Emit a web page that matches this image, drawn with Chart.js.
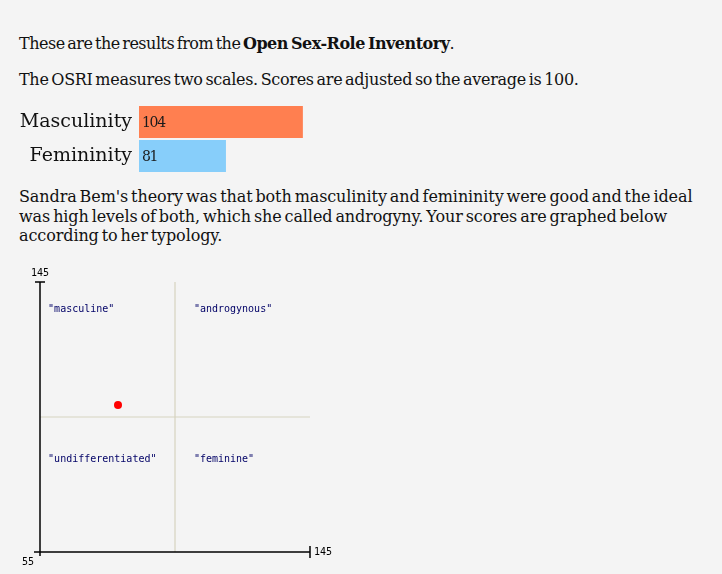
<!DOCTYPE html>
<html>
<head>
<meta charset="utf-8">
<script src="https://cdn.jsdelivr.net/npm/chart.js@4.4.1/dist/chart.umd.min.js"></script>
<style>
  html, body { margin: 0; padding: 0; background: #f4f4f4; width: 722px; height: 574px; overflow: hidden; }
  body { position: relative; font-family: "DejaVu Serif", serif; color: #111; }
  .txt { position: absolute; left: 19px; margin: 0; white-space: nowrap; font-size: 16px; }
  #p1 { top: 34px; letter-spacing: -0.5px; word-spacing: -2px; }
  #p2 { top: 70px; letter-spacing: -0.3px; word-spacing: -2px; }
  #p3 { top: 187px; line-height: 19.5px; letter-spacing: -0.1px; word-spacing: -2px; }
  #barWrap { position: absolute; left: 0; top: 105px; width: 440px; height: 68px; }
  #scatWrap { position: absolute; left: 0; top: 260px; width: 360px; height: 314px; }
</style>
</head>
<body>
<p class="txt" id="p1">These are the results from the <b>Open Sex-Role Inventory</b>.</p>
<p class="txt" id="p2">The OSRI measures two scales. Scores are adjusted so the average is 100.</p>
<div id="barWrap"><canvas id="bar"></canvas></div>
<p class="txt" id="p3">Sandra Bem's theory was that both masculinity and femininity were good and the ideal<br>was high levels of both, which she called androgyny. Your scores are graphed below<br>according to her typology.</p>
<div id="scatWrap"><canvas id="scat"></canvas></div>
<script>
// ---- data ----
const barCategories = ['Masculinity', 'Femininity'];
const barValues = [104, 81];
const scaleMin = 55;
const scaleMax = 145;
const scaleAverage = 100;
const scoreFemininity = [81];   // x
const scoreMasculinity = [104]; // y
const quadrantNames = ['"masculine"', '"androgynous"', '"undifferentiated"', '"feminine"'];
const quadrantX = [57.7, 106.3, 57.7, 106.3];
const quadrantY = [136, 136, 86, 86];

// ---- styles ----
const barColors = ['#ff7f50', '#87cefa'];
const monoFont = '"DejaVu Sans Mono", monospace';

const barValuePlugin = {
  id: 'barValues',
  afterDraw(chart) {
    const ctx = chart.ctx;
    const xs = chart.scales.x, ys = chart.scales.y;
    const base = xs.getPixelForValue(scaleMin);
    ctx.save();
    ctx.font = '14px "DejaVu Serif", serif';
    if ('letterSpacing' in ctx) ctx.letterSpacing = '-1.3px';
    ctx.fillStyle = '#1a1a1a';
    ctx.textBaseline = 'middle';
    ctx.textAlign = 'left';
    barValues.forEach((v, i) => {
      ctx.fillText(String(v), base + 3, ys.getPixelForValue(i) + 1);
    });
    ctx.restore();
  }
};

new Chart(document.getElementById('bar'), {
  type: 'bar',
  data: {
    labels: barCategories,
    datasets: [{ data: barValues, backgroundColor: barColors, borderWidth: 0,
                 barPercentage: 0.94, categoryPercentage: 1 }]
  },
  options: {
    indexAxis: 'y',
    responsive: true, maintainAspectRatio: false, animation: false,
    layout: { padding: 0 },
    plugins: { legend: { display: false }, tooltip: { enabled: false } },
    scales: {
      x: { display: false, min: scaleMin, max: scaleMax },
      y: {
        grid: { display: false, drawTicks: false },
        border: { display: false },
        ticks: { padding: 7, color: '#111', font: { family: '"DejaVu Serif", serif', size: 19 } },
        afterFit(scale) { scale.width = 139; scale.paddingTop = 0; scale.paddingBottom = 0; }
      }
    }
  },
  plugins: [barValuePlugin]
});

const quadrantPlugin = {
  id: 'quadrants',
  beforeDatasetsDraw(chart) {
    const { ctx, scales: { x, y } } = chart;
    const l = x.getPixelForValue(scaleMin), r = x.getPixelForValue(scaleMax);
    const t = y.getPixelForValue(scaleMax), b = y.getPixelForValue(scaleMin);
    const mx = x.getPixelForValue(scaleAverage), my = y.getPixelForValue(scaleAverage);
    ctx.save();
    ctx.strokeStyle = '#d6d3bf';
    ctx.lineWidth = 1.2;
    ctx.beginPath();
    ctx.moveTo(mx, t); ctx.lineTo(mx, b);
    ctx.moveTo(l, my); ctx.lineTo(r, my);
    ctx.stroke();
    ctx.strokeStyle = '#000';
    ctx.lineWidth = 1.5;
    ctx.beginPath();
    ctx.moveTo(l, t); ctx.lineTo(l, b + 4);
    ctx.moveTo(l - 6, b); ctx.lineTo(r, b);
    ctx.moveTo(l - 5, t); ctx.lineTo(l + 5, t);
    ctx.moveTo(r, b - 6); ctx.lineTo(r, b + 6);
    ctx.stroke();
    ctx.fillStyle = '#000';
    ctx.font = '10px ' + monoFont;
    ctx.textAlign = 'center'; ctx.textBaseline = 'bottom';
    ctx.fillText(String(scaleMax), l, t - 4);
    ctx.textAlign = 'left'; ctx.textBaseline = 'middle';
    ctx.fillText(String(scaleMax), r + 4, b);
    ctx.textAlign = 'right'; ctx.textBaseline = 'middle';
    ctx.fillText(String(scaleMin), l - 6, b + 10);
    ctx.fillStyle = '#000066';
    ctx.textAlign = 'left'; ctx.textBaseline = 'middle';
    quadrantNames.forEach((name, i) => {
      ctx.fillText(name, x.getPixelForValue(quadrantX[i]), y.getPixelForValue(quadrantY[i]));
    });
    ctx.restore();
  }
};

new Chart(document.getElementById('scat'), {
  type: 'scatter',
  data: {
    datasets: [{
      data: scoreFemininity.map((v, i) => ({ x: v, y: scoreMasculinity[i] })),
      backgroundColor: '#ff0000', borderColor: '#ff0000', pointRadius: 4, borderWidth: 0
    }]
  },
  options: {
    responsive: true, maintainAspectRatio: false, animation: false,
    layout: { padding: { left: 40, right: 50, top: 22, bottom: 22 } },
    plugins: { legend: { display: false }, tooltip: { enabled: false } },
    scales: {
      x: { display: false, min: scaleMin, max: scaleMax },
      y: { display: false, min: scaleMin, max: scaleMax }
    }
  },
  plugins: [quadrantPlugin]
});
</script>
</body>
</html>
